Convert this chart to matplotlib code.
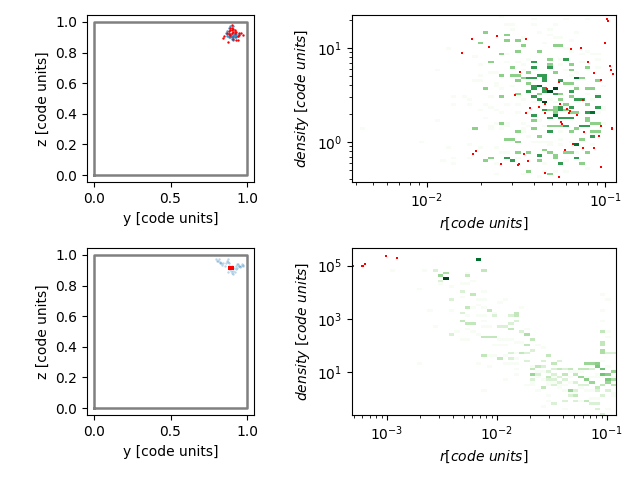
import numpy as np
import matplotlib
matplotlib.use('Agg')
import matplotlib.pyplot as plt
from matplotlib.colors import LogNorm
from matplotlib.ticker import NullLocator

# projected positions, top row snapshot
red_y_a = [.90,.89,.90,.91,.89,.90,.92,.88,.91,.93,.87,.90,.92,.945,.96,.97,.85,.845,.875,.91,.93,.943,.95,.88,.94,.89]
red_z_a = [.98,.96,.96,.955,.945,.945,.95,.94,.935,.935,.93,.93,.925,.93,.925,.915,.905,.895,.867,.89,.885,.882,.915,.92,.91,.915]
blue_y_a = [.86,.87,.87,.88,.88,.89,.89,.90,.90,.91,.92,.92,.93,.93,.94,.95,.88,.89,.91,.92,.90,.91,.87,.885,.895,.905,.915,.925]
blue_z_a = [.93,.92,.94,.91,.93,.90,.92,.90,.92,.91,.90,.92,.90,.92,.91,.92,.96,.97,.97,.94,.89,.88,.905,.90,.91,.90,.915,.905]

# projected positions, bottom row snapshot
red_y_b = [.885,.89,.895,.90,.905,.885,.89,.895,.90,.905,.89,.895,.90]
red_z_b = [.905,.905,.905,.905,.905,.92,.92,.92,.92,.92,.912,.912,.912]
blue_y_b = [.80,.81,.824,.834,.878,.87,.856,.889,.91,.925,.943,.95,.965,.976,.932,.90,.878,.84,.815,.93,.955,.885,
            .805,.82,.83,.865,.875,.885,.90,.915,.92,.935,.945,.96,.97,.91,.895,.88]
blue_z_b = [.97,.96,.95,.935,.97,.96,.928,.906,.895,.928,.939,.928,.939,.928,.917,.88,.89,.945,.975,.905,.92,.95,
            .96,.955,.945,.945,.955,.93,.925,.915,.89,.94,.925,.93,.935,.875,.895,.91]

# phase plot, top row: log10 r and log10 density
pts_r_a = [-.991,-.985,-1.609,-1.749,-1.446,-1.654,-1.002,-1.193,-1.137,-1.805,-1.097,-.974,-.968,-.957,-1.479,-1.064,-1.024,-1.260,
           -1.328,-1.507,-1.125,-1.339,-1.255,-1.423,-1.373,-1.215,-1.199,-1.204,-1.446,-1.339,-1.159,-1.249,-1.243,-1.024,-.963,-.963,
           -1.120,-1.036,-.934,-1.182,-1.125,-1.064,-1.227,-1.727,-1.743,-1.457,-1.434,-1.485,-1.491,-1.586,-1.024,-1.339,-1.260]
pts_rho_a = [1.312,1.291,1.131,1.099,1.099,1.014,1.057,.993,1.004,.950,.855,.812,.770,.727,.748,.738,.663,.642,
             .567,.504,.450,.408,.408,.365,.376,.355,.333,.312,.312,.312,.291,.216,.195,.174,.152,.142,
             .110,.067,.025,-.018,-.060,-.060,-.082,-.092,-.124,-.124,-.199,-.230,-.241,-.230,-.262,-.326,-.369]

r_a_1 = [-1.59,-1.56,-1.53,-1.53,-1.40,-1.40,-1.38,-1.31,-1.28,-1.22,-1.10,-1.47,-1.89,-1.74,-1.71,-1.95,-2.41,-1.62,-1.71,-1.62,-1.59,-1.53,
         -1.47,-1.44,-1.56,-1.50,-1.84,-1.80,-1.77,-1.86,-1.65,-1.62,-1.71,-1.56,-1.50,-1.47,-1.68,-1.95,-2.35,-2.04,-1.89,-1.77,-1.71,-1.62,
         -1.59,-1.56,-1.50,-1.92,-1.84,-1.84,-1.77,-1.62,-1.62,-1.47,-1.38,-1.34,-1.22,-1.01,-1.01,-1.10,-1.04,-1.16,-1.19,-1.04,-1.10,-1.04,
         -1.25,-1.25,-1.47,-1.56,-1.62,-1.65,-1.50,-1.47,-1.44,-1.38,-1.34,-1.62,-1.65,-1.56,-1.47,-1.44,-1.40,-1.34,-1.38,-1.31,-1.25,-1.19,-1.25,
         -1.77,-1.74,-1.71,-1.68,-1.65,-1.65,-1.59,-1.59,-1.56,-1.53,-1.50,-1.47,-1.44,-1.44,-1.40,-1.38,-1.34,-1.31,-1.28,-1.25,-1.22,-1.19,-1.16,-1.13,-1.10,-1.07,-1.04,-1.01,-1.01,
         -1.34,-1.31,-1.28,-1.25,-1.22,-1.19,-1.16,-1.13,-1.07,-1.04,-1.31,-1.25,-1.19,-1.13,-1.07,-1.34,-1.28,-1.22,-1.16,-1.10]
rho_a_1 = [1.34,1.26,1.26,1.20,1.30,1.26,1.17,1.20,1.12,1.32,1.32,1.12,1.00,.92,.83,.78,.80,.75,.66,.60,.58,.60,
           .83,.89,.86,.86,.49,.49,.40,.41,.38,.35,.35,.41,.41,.46,.27,.24,.13,-.01,-.07,-.04,-.07,-.07,
           -.12,-.10,-.16,-.21,-.24,-.18,-.16,-.24,-.35,-.35,-.38,-.24,-.30,.38,.35,.41,.52,.60,.97,.95,.97,.89,
           .83,.89,.77,.95,.63,.49,.49,.21,.18,.24,.18,.21,.15,.18,.12,.07,.01,.01,.01,-.04,-.04,-.01,.04,
           .46,.66,.72,.40,.75,.18,.15,.30,.20,.60,.30,.14,.55,.32,.43,.38,.41,.46,.44,.64,.77,.72,.75,.86,.52,.46,.30,.60,.20,
           1.06,1.14,1.26,1.10,1.0,1.08,1.16,.95,.95,.80,.00,.10,.00,-.07,-.02,-.30,-.30,-.20,-.12,-.28]

r_a_2 = [-1.68,-1.71,-1.56,-1.56,-1.50,-1.47,-1.28,-1.25,-1.50,-1.59,-1.38,-1.65,-1.53,-1.31,-1.31,-1.59,-1.53,-1.50,-1.44,-1.19,-1.19,-1.28,
         -1.50,-1.47,-1.13,-1.10,-1.04,-1.22,-1.19,-1.44,-1.68,-1.16,-1.10,-1.07,-1.50,-1.59,-1.38,-1.25,-1.25,-1.19,-1.10,-1.22,-1.28,-1.28,
         -1.31,-1.28,-1.22,-1.19,-1.16,-1.10,-1.10,-1.40,-1.59,-1.74,-1.50,-1.40,-1.31,-1.28,-1.25,-1.16,-1.19,-1.07,-1.04,-1.05,-1.04,-1.07,
         -1.38,-1.56,-1.53,-1.13,-1.50,-1.50,-1.44,-1.34,-1.31,-1.28,-1.28,-1.22,-1.19,-1.10,-1.65,-1.68,-1.38,-1.13,-1.44,-1.31]
rho_a_2 = [1.17,1.06,1.14,1.09,1.09,1.03,1.03,1.03,.98,.95,.98,.86,.80,.89,.83,.72,.72,.72,.75,.83,.77,.75,
           .66,.69,.69,.80,.66,.63,.63,.63,.58,.58,.58,.58,.52,.49,.52,.52,.46,.49,.41,.40,.38,.35,
           .35,.32,.35,.32,.32,.27,.24,.24,.21,.15,.12,.15,.18,.18,.18,.15,.12,.21,.21,.12,.12,.10,
           .07,.04,.04,.04,-.01,-.10,-.10,-.08,-.10,-.13,-.17,-.10,-.12,-.10,-.18,-.21,-.21,-.24,-.30,-.35]

r_a_3 = [-1.40,-1.31,-1.40,-1.44,-1.40,-1.38,-1.34,-1.34,-1.34,-1.22,-1.25,-1.40,-1.40,-1.44,-1.34,-1.34,-1.28,-1.19,-1.40,-1.38,-1.16,-1.04,-1.13,
         -1.34,-1.25,-1.25,-1.19,-1.04,-1.40,-1.31,-1.22,-1.25,-1.19,-1.10,-1.22,-1.13,-1.10,-1.31,-1.07,-1.38,-1.56,-1.53,-1.16,-1.25]
rho_a_3 = [.86,.80,.80,.69,.69,.72,.72,.69,.66,.89,.66,.61,.58,.55,.58,.55,.52,.55,.49,.46,.46,.49,.46,
           .35,.38,.35,.38,.38,.29,.27,.27,.27,.27,.32,.18,.18,.18,.10,.07,-.13,-.16,-.21,-.18,-.24]

r_a_4 = [-1.16,-1.38,-1.28,-1.07,-1.16]
rho_a_4 = [.69,.61,.29,.32,-.04]

r_a_5 = [-1.28,-1.31,-1.34]
rho_a_5 = [.58,.55,.44]

# phase plot, bottom row
pts_r_b = [-3.006,-2.906,-3.199,-3.214,-3.22,-3.305]
pts_rho_b = [5.36,5.29,5.06,4.99,4.99,5.0]

r_b = [-2.46,-2.16,-2.50,-2.46,-2.50,-2.55,-2.50,-2.65,-2.95,-2.11,-2.26,-2.26,-2.31,-2.26,-2.21,-2.70,-2.41,-2.31,-2.21,-2.31,-2.41,-2.11,-2.16,-2.11,
       -2.60,-2.41,-2.26,-2.21,-2.31,-2.16,-2.11,-2.06,-2.01,-1.96,-1.91,-1.77,-1.82,-1.82,-1.87,-2.01,-2.26,-2.16,-2.11,-2.31,-2.26,-2.21,-2.55,-2.11,
       -2.11,-2.06,-1.96,-1.91,-1.87,-1.82,-1.87,-2.26,-2.21,-2.16,-2.41,-2.36,-1.77,-1.72,-1.72,-2.11,-2.06,-2.01,-2.31,-2.26,-1.96,-1.91,-1.87,-1.82,
       -1.67,-1.72,-1.77,-2.01,-1.96,-1.91,-1.63,-1.57,-1.87,-1.77,-1.72,-1.67,-2.11,-2.06,-2.01,-1.96,-1.91,-1.87,-1.82,-1.82,-1.72,-2.70,-2.16,-2.06,
       -1.91,-1.87,-1.82,-1.82,-1.82,-1.67,-1.67,-1.63,-1.57,-1.53,-1.57,-1.48,-1.43,-1.91,-2.11,
       -1.67,-1.63,-1.67,-1.63,-1.53,-1.53,-1.53,-1.48,-1.48,-1.48,-1.43,-1.43,-1.43,-1.37,-1.37,-1.37,-1.33,-1.33,-1.33,-1.28,-1.28,-1.23,-1.23,-1.18,
       -1.18,-1.18,-1.13,-1.13,-1.13,-1.08,-1.08,-1.08,-1.08,-1.03,-1.03,-1.03,-.98,-.93,-.98,-.98,-.93,-.93,-1.03,-1.03,-1.03,-1.03,-1.03,-.98,-.93,
       -1.03,-1.03,-.98,-.98,-1.03,-1.03,-.98,-1.57,-1.48,-1.37,-1.33,-1.28,-1.28,-1.23,-1.18,-1.13,-1.08,-.98,-1.03,-1.53,-1.53,-1.48,-1.57,-1.37,-1.37,
       -1.33,-1.28,-1.23,-1.18,-1.13,-1.08,-1.08,-1.03,-.98,-1.18,-1.67,-1.72,-1.63,-.93,-.93,
       -1.67,-1.63,-1.57,-1.53,-1.48,-1.43,-1.37,-1.33,-1.28,-1.23,-1.18,-1.13,-1.08,-1.03,-.98,-.93,-1.57,-1.53,-1.48,-1.43,-1.37,-1.33,-1.28,-1.23,-1.18,-1.13,-1.08]
rho_b = [4.54,5.24,4.64,4.75,4.45,4.85,4.30,4.85,4.85,4.85,4.75,4.60,4.34,4.34,4.45,4.15,4.25,4.05,3.95,3.85,3.75,4.05,3.75,3.75,
         3.35,3.35,3.40,3.40,3.25,3.52,3.46,3.35,3.25,3.65,3.75,3.46,3.25,3.15,3.08,3.08,3.15,3.15,3.08,2.95,2.85,2.85,2.76,2.95,
         2.76,2.76,2.76,2.76,2.85,2.95,2.65,2.65,2.55,2.45,2.45,2.55,2.55,2.46,2.65,2.35,2.35,2.35,2.25,2.25,2.25,2.25,2.25,2.15,
         2.20,2.05,2.15,2.05,2.05,2.05,2.05,1.90,1.75,1.75,1.75,1.85,1.65,1.65,1.65,1.52,1.65,1.52,1.75,1.55,1.45,1.35,1.35,1.25,
         1.35,1.35,1.35,1.15,.95,1.25,1.15,1.25,1.25,1.62,1.45,1.35,1.45,.75,.35,
         .95,.95,.75,.85,1.05,.85,.75,1.15,.95,.75,1.15,.85,.65,1.15,.95,.75,1.15,.85,.65,.95,.65,1.15,.85,1.15,
         1.35,.75,1.35,1.15,.65,1.35,1.25,.95,.46,1.46,1.12,.95,.95,1.05,.75,.65,.75,.55,.55,2.15,2.05,1.85,1.75,1.75,1.75,
         2.55,2.90,2.55,2.35,3.35,3.95,3.75,.46,.55,.55,.35,.35,.15,.55,.55,.35,.35,.35,.15,.15,-.12,-.22,-.32,-.12,-.42,
         .15,-.04,-.12,-.12,-.22,-.22,-.42,-.54,-.35,-.54,.55,.55,.35,.25,.15,
         .65,1.05,1.05,.65,.85,.55,.55,1.05,1.05,1.05,.85,.85,.85,.85,1.25,.85,.75,.55,.65,.45,.35,.25,.25,.45,.35,.05,.05]
count_b = [60,35,5,4,2,2,1,1,1,3,1,3,1,1,1,1,1,2,3,1,2,1,1,1,
           1,1,3,1,2,1,1,3,1,1,1,1,3,3,2,2,1,1,1,3,3,3,1,1,
           1,1,2,2,2,2,3,1,1,1,2,1,2,4,1,3,3,3,1,1,1,1,1,1,
           3,3,1,1,1,1,1,1,2,3,2,2,3,1,1,3,1,2,1,1,2,1,1,1,
           1,1,1,1,1,1,3,3,2,3,2,3,2,1,1,
           5,2,2,1,2,3,2,2,2,2,3,2,2,2,3,2,3,1,1,3,2,3,5,3,
           5,6,5,2,5,6,7,1,3,1,8,8,6,5,7,5,4,3,3,3,3,4,4,2,2,
           3,1,1,1,1,1,1,3,2,1,5,2,3,2,2,1,2,2,2,1,1,2,1,2,1,
           2,2,1,3,2,2,2,2,1,1,1,1,1,1,1,
           1,1,1,1,1,1,1,1,1,1,1,1,1,1,1,1,1,1,1,1,1,1,1,1,1,1,1]


def phase_cells(ax, log_r, log_rho, counts, xe, ye, vmax):
    grid = np.zeros((len(xe) - 1, len(ye) - 1))
    i = np.digitize(log_r, xe) - 1
    j = np.digitize(log_rho, ye) - 1
    np.maximum.at(grid, (i, j), counts)
    grid[grid == 0] = np.nan
    ax.pcolormesh(10.0**xe, 10.0**ye, grid.T, cmap='Greens', norm=LogNorm(vmin=1, vmax=vmax))


fig = plt.figure(figsize=(6.4, 4.8), dpi=100)

ax1 = fig.add_axes([87/640, 298/480, 167/640, 167/480])
ax2 = fig.add_axes([352/640, 298/480, 264/640, 167/480])
ax3 = fig.add_axes([87/640, 65/480, 167/640, 167/480])
ax4 = fig.add_axes([352/640, 65/480, 264/640, 167/480])

box_x = [0, 1, 1, 0, 0]
box_y = [0, 0, 1, 1, 0]

ax1.plot(box_x, box_y, color='gray', lw=1.8, zorder=1)
ax1.scatter(blue_y_a, blue_z_a, s=3, color='tab:blue', lw=0, alpha=0.8)
ax1.scatter(red_y_a, red_z_a, s=3, color='red', lw=0)
ax3.plot(box_x, box_y, color='gray', lw=1.8, zorder=1)
ax3.scatter(blue_y_b, blue_z_b, s=3, color='tab:blue', lw=0, alpha=0.3)
ax3.scatter(red_y_b, red_z_b, s=3, marker='s', color='red', lw=0)

for ax in (ax1, ax3):
    ax.set_xlim(-0.045, 1.045)
    ax.set_ylim(-0.045, 1.045)
    ax.set_xticks([0, 0.5, 1])
    ax.set_xlabel('y [code units]', labelpad=4.6)
    ax.set_ylabel('z [code units]')

# top phase plot
xe_a = -2.435 + 0.03*np.arange(51)
ye_a = -0.44 + 0.0284*np.arange(65)
r_all = np.array(r_a_1 + r_a_2 + r_a_3 + r_a_4 + r_a_5)
rho_all = np.array(rho_a_1 + rho_a_2 + rho_a_3 + rho_a_4 + rho_a_5)
w_all = np.array([1]*len(r_a_1) + [2]*len(r_a_2) + [3]*len(r_a_3) + [4]*len(r_a_4) + [5]*len(r_a_5))
phase_cells(ax2, r_all, rho_all, w_all, xe_a, ye_a, 5)
ax2.scatter(10.0**np.array(pts_r_a), 10.0**np.array(pts_rho_a), s=4, marker='s', color='red', lw=0)
ax2.set_xscale('log')
ax2.set_yscale('log')
ax2.set_xlim(0.0038, 0.115)
ax2.set_ylim(0.376, 22.4)

# bottom phase plot
xe_b = -3.3175 + 0.049*np.arange(51)
ye_b = -0.63 + 0.1*np.arange(65)
phase_cells(ax4, np.array(r_b), np.array(rho_b), np.array(count_b), xe_b, ye_b, 60)
ax4.scatter(10.0**np.array(pts_r_b), 10.0**np.array(pts_rho_b), s=3.5, marker='s', color='red', lw=0)
ax4.set_xscale('log')
ax4.set_yscale('log')
ax4.set_xlim(0.000484, 0.1207)
ax4.set_ylim(0.25, 4.6e5)
ax4.set_yticks([1e1, 1e3, 1e5])
ax4.yaxis.set_minor_locator(NullLocator())

for ax in (ax2, ax4):
    ax.set_xlabel(r'$r [code\ units]$')
    ax.set_ylabel(r'$density\ [code\ units]$')

fig.savefig('out.png', dpi=100)
